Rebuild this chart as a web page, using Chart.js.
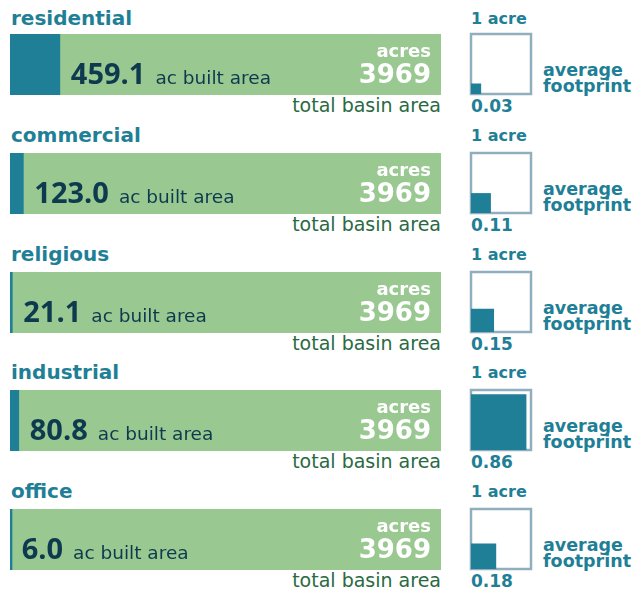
<!DOCTYPE html>
<html lang="en">
<head>
    <meta charset="UTF-8">
    <title>Built area by land use</title>
    <script src="https://cdn.jsdelivr.net/npm/chart.js"></script>
    <style>
        body {
            margin: 0;
            background: #fff;
            width: 637px;
            height: 597px;
            position: relative;
            overflow: hidden;
            font-family: "DejaVu Sans", sans-serif;
        }
        .txt {
            position: absolute;
            line-height: 1;
            white-space: nowrap;
        }
        canvas {
            position: absolute;
        }
    </style>
</head>
<body>
    <div id="page"></div>

    <script>
        // data
        const categories = ['residential', 'commercial', 'religious', 'industrial', 'office'];
        const builtArea = [459.1, 123.0, 21.1, 80.8, 6.0];
        const totalArea = [3969, 3969, 3969, 3969, 3969];
        const avgFootprint = [0.03, 0.11, 0.15, 0.86, 0.18];

        const teal = '#1f7f96';
        const green = '#99c891';
        const navy = '#0d3a4e';
        const darkGreen = '#2a6a42';
        const frameColor = '#8fafbf';

        const page = document.getElementById('page');

        // place an html text by its baseline (DejaVu metrics, line-height 1)
        function addText(str, x, baseline, size, color, bold, alignRight) {
            const d = document.createElement('div');
            d.className = 'txt';
            d.textContent = str;
            d.style.fontSize = size + 'px';
            d.style.color = color;
            d.style.fontWeight = bold ? 'bold' : 'normal';
            d.style.top = (baseline - 0.846 * size) + 'px';
            if (alignRight) {
                d.style.right = (637 - x) + 'px';
            } else {
                d.style.left = x + 'px';
            }
            page.appendChild(d);
        }

        function makeCanvas(x, y, w, h) {
            const c = document.createElement('canvas');
            c.width = w;
            c.height = h;
            c.style.left = x + 'px';
            c.style.top = y + 'px';
            c.style.width = w + 'px';
            c.style.height = h + 'px';
            page.appendChild(c);
            return c;
        }

        const barText = {
            id: 'barText',
            afterDatasetsDraw(chart, args, opts) {
                const ctx = chart.ctx;
                const i = opts.row;
                const area = chart.chartArea;
                const x0 = chart.scales.x.getPixelForValue(builtArea[i]) + 11;
                ctx.save();
                ctx.textBaseline = 'alphabetic';
                ctx.textAlign = 'left';
                ctx.fillStyle = navy;
                ctx.font = 'bold 29px "Open Sans"';
                const val = builtArea[i].toFixed(1);
                ctx.fillText(val, x0, 50);
                const w = ctx.measureText(val).width;
                ctx.font = '18.5px "DejaVu Sans"';
                ctx.fillText('ac built area', x0 + w + 10, 50);

                ctx.textAlign = 'right';
                ctx.fillStyle = '#ffffff';
                ctx.font = 'bold 18px "DejaVu Sans"';
                ctx.fillText('acres', area.right - 10, 23);
                ctx.font = 'bold 26px "DejaVu Sans"';
                ctx.fillText(String(totalArea[i]), area.right - 10, 49);
                ctx.restore();
            }
        };

        const frame = {
            id: 'frame',
            beforeDatasetsDraw(chart) {
                const a = chart.chartArea;
                const ctx = chart.ctx;
                ctx.save();
                ctx.strokeStyle = frameColor;
                ctx.lineWidth = 2.5;
                ctx.strokeRect(a.left, a.top, a.right - a.left, a.bottom - a.top);
                ctx.restore();
            }
        };

        categories.forEach((cat, i) => {
            const top = Math.round(34 + i * 118.75);
            const lblBase = i === 0 ? top - 9 : top - 11;

            addText(cat, 11, lblBase, 20, teal, true);
            addText('total basin area', 441, top + 78, 19, darkGreen, false, true);
            addText('1 acre', 471, lblBase, 16, teal, true);
            addText('average', 543, top + 43, 17.5, teal, true);
            addText('footprint', 543, top + 59, 17.5, teal, true);
            addText(avgFootprint[i].toFixed(2), 471, top + 78, 17, teal, true);

            // built area over total basin area
            const barCanvas = makeCanvas(10, top, 431, 61);
            new Chart(barCanvas, {
                type: 'bar',
                data: {
                    labels: [cat],
                    datasets: [
                        {
                            data: [builtArea[i]],
                            backgroundColor: teal,
                            order: 0,
                            grouped: false,
                            minBarLength: 2
                        },
                        {
                            data: [totalArea[i]],
                            backgroundColor: green,
                            order: 1,
                            grouped: false
                        }
                    ]
                },
                options: {
                    indexAxis: 'y',
                    responsive: false,
                    animation: false,
                    events: [],
                    layout: { padding: 0 },
                    datasets: {
                        bar: { barPercentage: 1, categoryPercentage: 1, borderWidth: 0 }
                    },
                    plugins: {
                        legend: { display: false },
                        tooltip: { enabled: false },
                        barText: { row: i }
                    },
                    scales: {
                        x: { display: false, min: 0, max: totalArea[i] },
                        y: { display: false }
                    }
                },
                plugins: [barText]
            });

            // average footprint as a square inside a 1 acre square
            const side = Math.sqrt(avgFootprint[i]);
            const sqCanvas = makeCanvas(469, top - 2, 64, 64);
            new Chart(sqCanvas, {
                type: 'scatter',
                data: {
                    datasets: [{
                        data: [{ x: 0, y: side }, { x: side, y: side }],
                        showLine: true,
                        fill: 'origin',
                        backgroundColor: teal,
                        borderWidth: 0,
                        pointRadius: 0
                    }]
                },
                options: {
                    responsive: false,
                    animation: false,
                    events: [],
                    layout: { padding: 2 },
                    plugins: {
                        legend: { display: false },
                        tooltip: { enabled: false }
                    },
                    scales: {
                        x: { type: 'linear', display: false, min: 0, max: 1 },
                        y: { type: 'linear', display: false, min: 0, max: 1 }
                    }
                },
                plugins: [frame]
            });
        });
    </script>
</body>
</html>
